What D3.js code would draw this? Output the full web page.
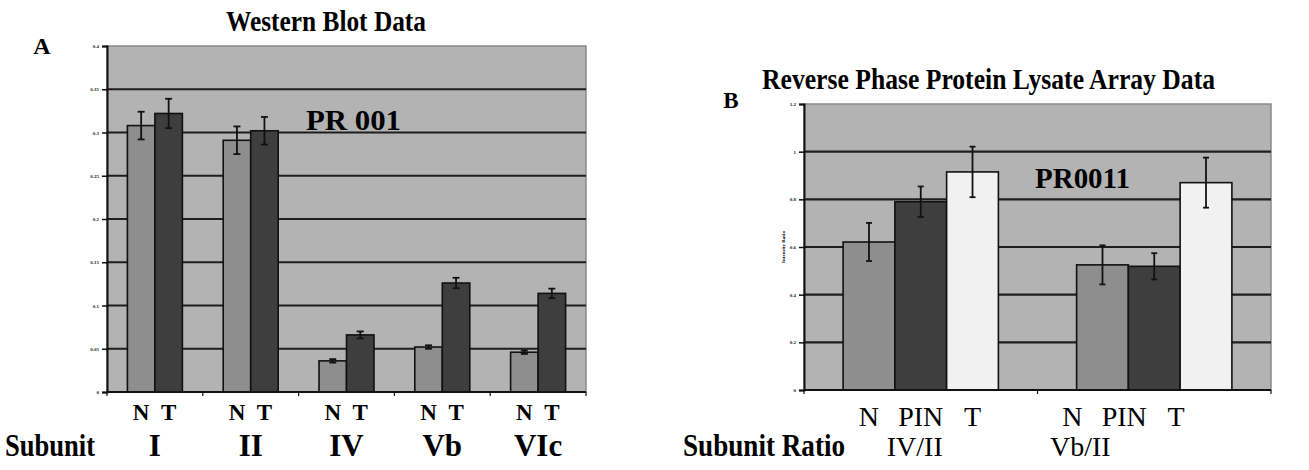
<!DOCTYPE html>
<html>
<head>
<meta charset="utf-8">
<script src="https://cdn.jsdelivr.net/npm/d3@7"></script>
<style>
  body { margin: 0; background: #fff; }
  svg { display: block; font-family: "Liberation Serif", "Times New Roman", serif; }
</style>
</head>
<body>
<div id="vis"></div>
<script>
// panel A: western blot
var subunitsA = ["I", "II", "IV", "Vb", "VIc"];
var seriesA = ["N", "T"];
var meanA_N = [0.308, 0.291, 0.036, 0.052, 0.046];
var meanA_T = [0.322, 0.302, 0.066, 0.126, 0.114];
var errA_N = [0.016, 0.016, 0.002, 0.002, 0.002];
var errA_T = [0.017, 0.016, 0.004, 0.006, 0.0055];
var ticksA = [0, 0.05, 0.1, 0.15, 0.2, 0.25, 0.3, 0.35, 0.4];

// panel B: reverse phase protein lysate array
var ratiosB = ["IV/II", "Vb/II"];
var seriesB = ["N", "PIN", "T"];
var meanB_N = [0.621, 0.525];
var meanB_PIN = [0.790, 0.519];
var meanB_T = [0.915, 0.870];
var errB_N = [0.080, 0.082];
var errB_PIN = [0.064, 0.055];
var errB_T = [0.106, 0.105];
var ticksB = [0, 0.2, 0.4, 0.6, 0.8, 1, 1.2];

var W = 1309, H = 470;
var plotBg = "#b3b3b3", gridCol = "#1e1e1e";

var svg = d3.select("#vis").append("svg")
    .attr("width", W)
    .attr("height", H);

// squeezed text, the figure's lettering is narrow
function label(x, y, txt, size, bold, len, anchor) {
    var t = svg.append("text").attr("x", x).attr("y", y)
        .attr("font-size", size).text(txt);
    if (bold) t.attr("font-weight", "bold");
    if (anchor) t.attr("text-anchor", anchor);
    if (len) t.attr("textLength", len).attr("lengthAdjust", "spacingAndGlyphs");
    return t;
}

function drawPanel(o) {
    var g = svg.append("g");
    var x = d3.scaleBand().domain(o.cats).range([o.left, o.right])
        .paddingInner(o.pad).paddingOuter(o.pad / 2);
    var xs = d3.scaleBand().domain(o.series).range([0, x.bandwidth()]);
    var y = d3.scaleLinear().domain([0, o.max]).range([o.bottom, o.top]);

    // plot area
    g.append("rect")
        .attr("x", o.left).attr("y", o.top)
        .attr("width", o.right - o.left).attr("height", o.bottom - o.top)
        .attr("fill", plotBg).attr("stroke", "#8a8a8a").attr("stroke-width", 1.5);

    // gridlines
    g.selectAll(".grid").data(o.ticks.filter(function(t) { return t > 0 && t < o.max; }))
        .enter().append("line")
        .attr("x1", o.left).attr("x2", o.right)
        .attr("y1", function(d) { return y(d); }).attr("y2", function(d) { return y(d); })
        .attr("stroke", gridCol).attr("stroke-width", 2.2);

    // bars
    var rows = [];
    o.cats.forEach(function(c, i) {
        o.series.forEach(function(s, j) {
            rows.push({cat: c, s: s, v: o.means[j][i], e: o.errs[j][i], fill: o.fills[j]});
        });
    });
    var bar = g.selectAll(".bar").data(rows).enter().append("g");
    bar.append("rect")
        .attr("x", function(d) { return x(d.cat) + xs(d.s); })
        .attr("y", function(d) { return y(d.v); })
        .attr("width", xs.bandwidth())
        .attr("height", function(d) { return y(0) - y(d.v); })
        .attr("fill", function(d) { return d.fill; })
        .attr("stroke", "#111").attr("stroke-width", 1.6);

    // error bars
    bar.each(function(d) {
        var cx = x(d.cat) + xs(d.s) + xs.bandwidth() / 2;
        var el = d3.select(this);
        el.append("line").attr("x1", cx).attr("x2", cx)
            .attr("y1", y(d.v + d.e)).attr("y2", y(d.v - d.e))
            .attr("stroke", "#111").attr("stroke-width", 1.8);
        [d.v + d.e, d.v - d.e].forEach(function(v) {
            el.append("line").attr("x1", cx - o.cap).attr("x2", cx + o.cap)
                .attr("y1", y(v)).attr("y2", y(v))
                .attr("stroke", "#111").attr("stroke-width", 1.8);
        });
    });

    // y axis
    var ya = g.append("g").attr("transform", "translate(" + o.left + ",0)")
        .call(d3.axisLeft(y).tickValues(o.ticks).tickSize(5).tickFormat(d3.format("")));
    ya.select(".domain").attr("stroke", "#111").attr("stroke-width", 2);
    ya.selectAll(".tick line").attr("stroke", "#111").attr("stroke-width", 1.5);
    ya.selectAll(".tick text").attr("font-size", 5).attr("font-weight", "bold")
        .attr("font-family", "Liberation Serif").attr("fill", "#222");

    // x axis
    var edges = d3.range(o.cats.length + 1).map(function(i) { return o.left + i * x.step(); });
    g.append("line").attr("x1", o.left).attr("x2", o.right)
        .attr("y1", o.bottom).attr("y2", o.bottom)
        .attr("stroke", "#111").attr("stroke-width", 2);
    g.selectAll(".xt").data(edges).enter().append("line")
        .attr("x1", function(d) { return d; }).attr("x2", function(d) { return d; })
        .attr("y1", o.bottom).attr("y2", o.bottom + 4)
        .attr("stroke", "#111").attr("stroke-width", 1.2);

    return {x: x, xs: xs, y: y};
}

// ---- panel A
var A = drawPanel({
    cats: subunitsA, series: seriesA, max: 0.4, ticks: ticksA,
    means: [meanA_N, meanA_T], errs: [errA_N, errA_T],
    fills: ["#8e8e8e", "#3e3e3e"],
    left: 107, right: 586, top: 46, bottom: 392, pad: 0.426, cap: 3.5
});

label(42, 54, "A", 24, true, 0, "middle");
label(226, 31, "Western Blot Data", 30, true, 200);
label(306, 130, "PR 001", 30, true, 95);

subunitsA.forEach(function(c) {
    seriesA.forEach(function(s) {
        label(A.x(c) + A.xs(s) + A.xs.bandwidth() / 2, 420, s, 23, true, 0, "middle");
    });
    label(A.x(c) + A.x.bandwidth() / 2, 456, c, 31, true, 0, "middle");
});
label(5, 456, "Subunit", 31, true, 90);

// ---- panel B
var B = drawPanel({
    cats: ratiosB, series: seriesB, max: 1.2, ticks: ticksB,
    means: [meanB_N, meanB_PIN, meanB_T], errs: [errB_N, errB_PIN, errB_T],
    fills: ["#8e8e8e", "#3e3e3e", "#f1f1f1"],
    left: 804, right: 1271, top: 104, bottom: 390, pad: 0.335, cap: 3
});

label(731, 108, "B", 23, true, 0, "middle");
label(762, 89, "Reverse Phase Protein Lysate Array Data", 30, true, 453);
label(1035, 188, "PR0011", 29, true, 95);
svg.append("text").attr("transform", "translate(785,247) rotate(-90)")
    .attr("text-anchor", "middle").attr("font-size", 5).attr("font-weight", "bold")
    .text("Intensity Ratio");

// group labels in B sit a little left of the bars in the second group
var shiftB = [0, -30], ratioShiftB = [-6, -74];
ratiosB.forEach(function(c, i) {
    seriesB.forEach(function(s) {
        label(B.x(c) + B.xs(s) + B.xs.bandwidth() / 2 + shiftB[i], 426, s, 28, false, 0, "middle");
    });
    label(B.x(c) + B.x.bandwidth() / 2 + ratioShiftB[i], 456, c, 28, false, 0, "middle");
});
label(683, 456, "Subunit Ratio", 31, true, 162);
</script>
</body>
</html>
